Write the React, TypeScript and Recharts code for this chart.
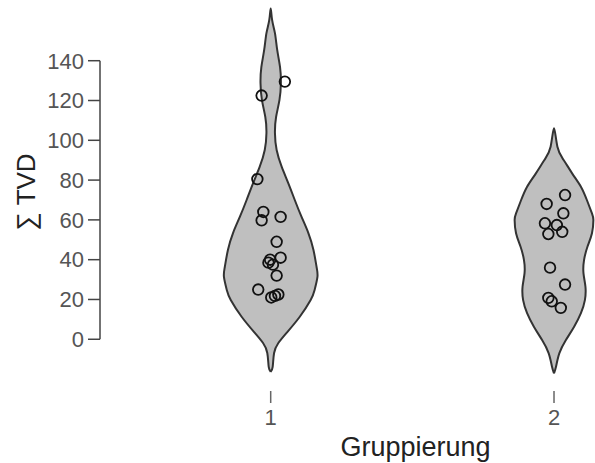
import React from 'react';
import { ScatterChart, Scatter, XAxis, YAxis, ReferenceLine } from 'recharts';

// Tick labels
const xTicks = [1, 2];
const yTicks = [0, 20, 40, 60, 80, 100, 120, 140];

// Violin 1 (Gruppierung 1): outline levels and half-widths (in x-units)
const violin1Levels = [166.3, 160.5, 153.9, 145.4, 136.8, 128.8, 120.3, 111.7, 103.7, 95.1, 86.6, 78.5, 70.0, 61.5, 53.4, 44.9, 36.3, 31.3, 24.8, 19.7, 11.2, 3.2, -1.9, -6.9, -13.9, -16.4];
const violin1Widths = [0, 0.005, 0.015, 0.023, 0.033, 0.036, 0.031, 0.019, 0.015, 0.021, 0.039, 0.062, 0.085, 0.109, 0.133, 0.151, 0.162, 0.165, 0.155, 0.141, 0.102, 0.056, 0.027, 0.012, 0.007, 0];

// Violin 2 (Gruppierung 2)
const violin2Levels = [106.0, 96.8, 90.1, 83.4, 76.7, 70.0, 63.3, 59.9, 53.3, 46.5, 39.8, 33.2, 26.4, 19.7, 13.1, 6.3, -0.4, -7.0, -13.8, -17.1];
const violin2Widths = [0, 0.012, 0.034, 0.064, 0.095, 0.116, 0.134, 0.139, 0.134, 0.118, 0.106, 0.104, 0.111, 0.109, 0.095, 0.071, 0.042, 0.019, 0.007, 0];

// Observations
const group1Values = [129.5, 122.5, 80.5, 64, 59.8, 61.5, 49, 41, 40, 38.5, 37.5, 32, 25, 21, 21.8, 22.5];
const group1Jitter = [0.050, -0.032, -0.047, -0.026, -0.032, 0.035, 0.021, 0.035, -0.002, -0.008, 0.008, 0.021, -0.044, 0.002, 0.015, 0.027];
const group2Values = [72.5, 68, 63.3, 58.3, 57.4, 54, 52.9, 36, 27.5, 20.8, 19.1, 15.8];
const group2Jitter = [0.039, -0.026, 0.033, -0.032, 0.010, 0.029, -0.020, -0.014, 0.039, -0.020, -0.008, 0.024];

function outline(center: number, levels: number[], widths: number[]) {
  const asc = levels.map((v, i) => ({ v, w: widths[i] })).sort((a, b) => a.v - b.v);
  const right = asc.map((p) => ({ x: center + p.w, y: p.v }));
  const left = asc.slice().reverse().map((p) => ({ x: center - p.w, y: p.v }));
  return [...right, ...left.slice(1)];
}

const violin1 = outline(1, violin1Levels, violin1Widths);
const violin2 = outline(2, violin2Levels, violin2Widths);
const points1 = group1Values.map((v, i) => ({ x: 1 + group1Jitter[i], y: v }));
const points2 = group2Values.map((v, i) => ({ x: 2 + group2Jitter[i], y: v }));

const FONT = '"Liberation Sans", Arial, Helvetica, sans-serif';

const Nothing = () => <g />;
const Ring = (p: any) => (
  <circle cx={p.cx} cy={p.cy} r={5.3} fill="none" stroke="#111" strokeWidth={1.8} />
);

const violinLine = { fill: '#bfbfbf', stroke: '#333', strokeWidth: 2 };

export default function App() {
  return (
    <div style={{ position: 'absolute', left: 0, top: 0, background: '#fff' }}>
      <ScatterChart width={595} height={463} margin={{ top: 5, right: 0, bottom: 0, left: 0 }}>
        <XAxis
          type="number"
          dataKey="x"
          domain={[0.3975, 2.1447]}
          ticks={xTicks}
          allowDataOverflow
          axisLine={false}
          tickLine={{ stroke: '#666', strokeWidth: 1.5 }}
          tickSize={12}
          tickMargin={6}
          height={72}
          tick={{ fontSize: 22, fill: '#555', fontFamily: FONT }}
          label={{
            content: (props: any) => {
              const vb = props.viewBox;
              return (
                <text x={vb.x + 315.5} y={vb.y + 65} textAnchor="middle" fontSize={27} fill="#222" fontFamily={FONT}>
                  Gruppierung
                </text>
              );
            },
          }}
        />
        <YAxis
          type="number"
          dataKey="y"
          domain={[-26, 168]}
          ticks={yTicks}
          allowDataOverflow
          axisLine={false}
          tickLine={{ stroke: '#444', strokeWidth: 1.5 }}
          tickSize={12}
          tickMargin={4}
          width={100}
          tick={{ fontSize: 22, fill: '#555', fontFamily: FONT }}
          label={{
            content: (props: any) => {
              const vb = props.viewBox;
              const cy = vb.y + vb.height / 2 - 6;
              return (
                <text x={35} y={cy} transform={`rotate(-90, 35, ${cy})`} textAnchor="middle" fontSize={26} fill="#222" fontFamily={FONT}>
                  ∑ TVD
                </text>
              );
            },
          }}
        />
        <ReferenceLine
          segment={[{ x: 0.3975, y: 0 }, { x: 0.3975, y: 140 }]}
          stroke="#444"
          strokeWidth={1.5}
          ifOverflow="visible"
        />
        <Scatter data={violin1} line={violinLine} lineJointType="natural" shape={Nothing} isAnimationActive={false} />
        <Scatter data={violin2} line={violinLine} lineJointType="natural" shape={Nothing} isAnimationActive={false} />
        <Scatter data={points1} shape={Ring} isAnimationActive={false} />
        <Scatter data={points2} shape={Ring} isAnimationActive={false} />
      </ScatterChart>
    </div>
  );
}
